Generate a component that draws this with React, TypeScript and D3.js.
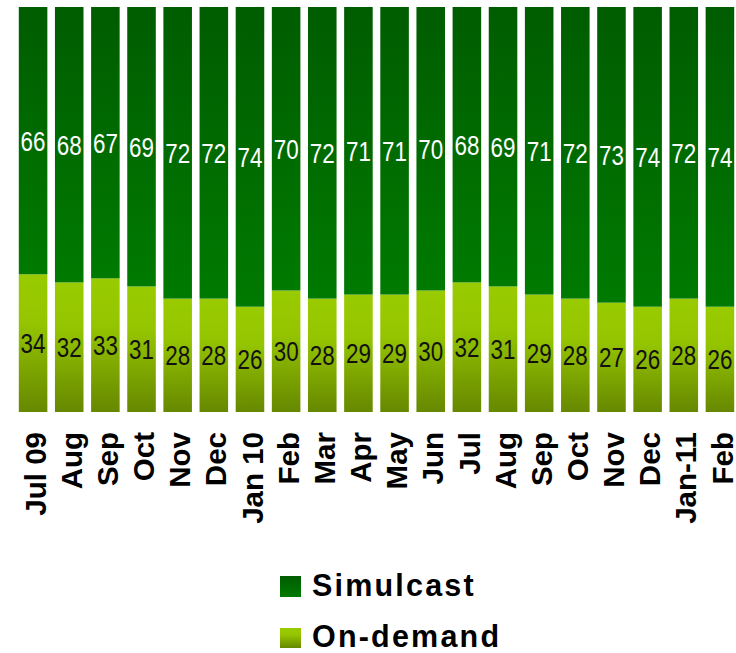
import React from 'react';
import * as d3 from 'd3';

const months = ['Jul 09', 'Aug', 'Sep', 'Oct', 'Nov', 'Dec', 'Jan 10', 'Feb', 'Mar', 'Apr', 'May', 'Jun',
  'Jul', 'Aug', 'Sep', 'Oct', 'Nov', 'Dec', 'Jan-11', 'Feb'];
const simulcast = [66, 68, 67, 69, 72, 72, 74, 70, 72, 71, 71, 70, 68, 69, 71, 72, 73, 74, 72, 74];
const onDemand = [34, 32, 33, 31, 28, 28, 26, 30, 28, 29, 29, 30, 32, 31, 29, 28, 27, 26, 28, 26];

const W = 736;
const H = 653;

export default function App() {
  const idx = months.map((_, i) => i);
  const x = d3.scaleBand<number>()
    .domain(idx)
    .range([15, 738])
    .paddingInner(0.21)
    .paddingOuter(0.105);
  const y = d3.scaleLinear().domain([0, 100]).range([412, 7]);

  const numFont = '"Liberation Sans", Arial, sans-serif';
  const axisFont = '"Liberation Sans", Arial, sans-serif';

  // condensed numeric label, centred on (cx, cy)
  const numLabel = (cx: number, cy: number, v: number, fill: string) => (
    <text transform={`translate(${cx},${cy}) scale(0.8,1)`} dy="0.36em" textAnchor="middle"
      fontFamily={numFont} fontSize={28} fill={fill}>{v}</text>
  );

  return (
    <svg width={W} height={H} style={{ position: 'absolute', left: 0, top: 0 }}>
      <defs>
        <linearGradient id="gSim" x1="0" y1="0" x2="0" y2="1">
          <stop offset="0" stopColor="#005c00" />
          <stop offset="1" stopColor="#007a00" />
        </linearGradient>
        <linearGradient id="gOd" x1="0" y1="0" x2="0" y2="1">
          <stop offset="0" stopColor="#99cb00" />
          <stop offset="0.35" stopColor="#95c500" />
          <stop offset="1" stopColor="#668800" />
        </linearGradient>
      </defs>

      {/* bars */}
      {idx.map(i => {
        const x0 = x(i)!;
        const bw = x.bandwidth();
        const od = onDemand[i];
        const sim = simulcast[i];
        return (
          <g key={i}>
            <rect x={x0} y={y(od)} width={bw} height={y(0) - y(od)} fill="url(#gOd)" />
            <rect x={x0} y={y(od + sim)} width={bw} height={y(od) - y(od + sim)} fill="url(#gSim)" />
            {numLabel(x0 + bw / 2, (y(od) + y(od + sim)) / 2, sim, '#ffffff')}
            {numLabel(x0 + bw / 2, (y(0) + y(od)) / 2, od, '#111111')}
          </g>
        );
      })}

      {/* category labels */}
      {idx.map(i => {
        const cx = x(i)! + x.bandwidth() / 2 + 2;
        return (
          <text key={'l' + i} transform={`translate(${cx},432) rotate(-90)`} dy="0.36em"
            textAnchor="end" fontFamily={axisFont} fontWeight="bold" fontSize={29.5} fill="#000">
            {months[i]}
          </text>
        );
      })}

      {/* legend */}
      <rect x={280} y={576} width={21} height={21} fill="url(#gSim)" />
      <text x={312} y={596} fontFamily={axisFont} fontWeight="bold" fontSize={30.5} letterSpacing={2.2} fill="#000">Simulcast</text>
      <rect x={280} y={628} width={21} height={20} fill="url(#gOd)" />
      <text x={312} y={647} fontFamily={axisFont} fontWeight="bold" fontSize={30.5} letterSpacing={2.2} fill="#000">On-demand</text>
    </svg>
  );
}
